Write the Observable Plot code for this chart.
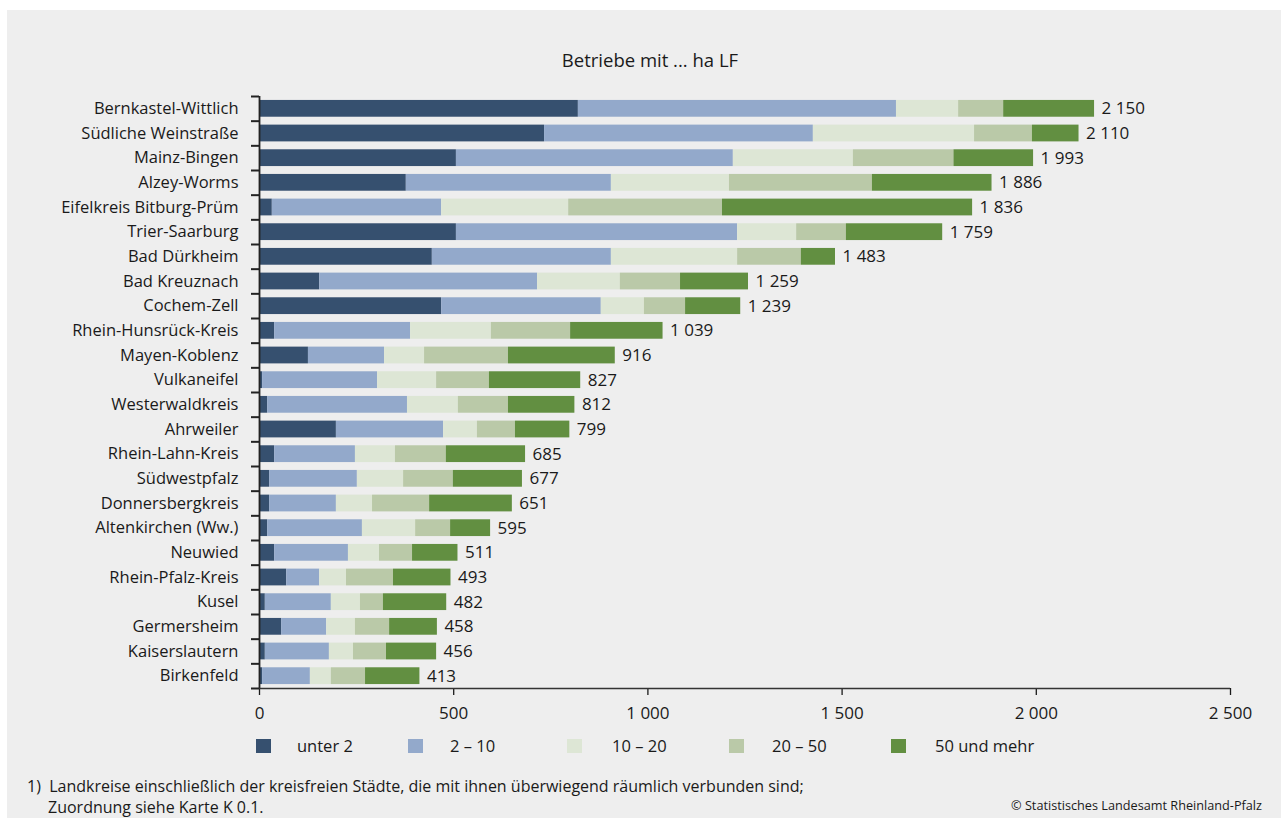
<!DOCTYPE html>
<html><head><meta charset="utf-8">
<script src="https://cdn.jsdelivr.net/npm/d3@7"></script>
<script src="https://cdn.jsdelivr.net/npm/@observablehq/plot@0.6"></script>
<style>
body{margin:0;background:#fff;width:1283px;height:818px;overflow:hidden;position:relative;font-family:"Open Sans",sans-serif;color:#1a1a1a}
#bg{position:absolute;left:7px;top:10px;width:1274px;height:808px;background:#eeeeee}
#title{position:absolute;left:0;width:1300px;top:47px;text-align:center;font-size:18.5px}
#chart{position:absolute;left:0;top:0}
#legend{position:absolute;left:0;top:0;font-size:16.5px}
.sw{position:absolute;width:15px;height:14px;top:739px}
.lt{position:absolute;top:734px;white-space:nowrap}
.fn{position:absolute;font-size:16px;white-space:nowrap}
</style></head>
<body>
<div id="bg"></div>
<div id="title">Betriebe mit ... ha LF</div>
<div id="chart"></div>
<div id="legend"></div>
<div class="fn" style="left:27px;top:775px">1)&nbsp; Landkreise einschließlich der kreisfreien Städte, die mit ihnen überwiegend räumlich verbunden sind;</div>
<div class="fn" style="left:48px;top:796px">Zuordnung siehe Karte K 0.1.</div>
<div class="fn" style="right:21px;top:796px;font-size:12.7px">© Statistisches Landesamt Rheinland-Pfalz</div>
<script>
const districts = ["Bernkastel-Wittlich","Südliche Weinstraße","Mainz-Bingen","Alzey-Worms","Eifelkreis Bitburg-Prüm","Trier-Saarburg","Bad Dürkheim","Bad Kreuznach","Cochem-Zell","Rhein-Hunsrück-Kreis","Mayen-Koblenz","Vulkaneifel","Westerwaldkreis","Ahrweiler","Rhein-Lahn-Kreis","Südwestpfalz","Donnersbergkreis","Altenkirchen (Ww.)","Neuwied","Rhein-Pfalz-Kreis","Kusel","Germersheim","Kaiserslautern","Birkenfeld"];
const classes = ["unter 2","2 – 10","10 – 20","20 – 50","50 und mehr"];
const unter2     = [821,734,507,378, 33,507,445,155,469, 39,126,  8, 21,198, 39, 26, 26, 21, 39, 70, 15, 57, 15,  8];
const von2bis10  = [819,692,713,528,436,724,461,561,411,350,196,296,360,276,208,226,172,244,190, 85,170,116,165,123];
const von10bis20 = [160,415,309,304,327,152,325,213,111,208,103,152,131, 87,103,119, 93,137, 80, 69, 75, 74, 62, 54];
const von20bis50 = [116,149,259,368,396,128,164,155,106,204,216,136,129, 98,131,128,147, 90, 85,121, 59, 88, 85, 88];
const ab50       = [234,120,205,308,644,248, 88,175,142,238,275,235,171,140,204,178,213,103,117,148,163,123,129,140];
const totals = [2150,2110,1993,1886,1836,1759,1483,1259,1239,1039,916,827,812,799,685,677,651,595,511,493,482,458,456,413];
const xTicks = [0,500,1000,1500,2000,2500];
const colors = ["#36506f","#93a9cb","#dde6d5","#bac9a8","#628f41"];

const series = [unter2, von2bis10, von10bis20, von20bis50, ab50];
const rows = [];
districts.forEach((d, i) => classes.forEach((c, j) => rows.push({district: d, cls: c, value: series[j][i]})));
const fmt = n => n >= 1000 ? Math.floor(n / 1000) + "\u00a0" + String(n % 1000).padStart(3, "0") : String(n);

const W = 1283, H = 730, mTop = 96, mBottom = H - 688, mLeft = 259, mRight = 53;
const pIn = 0.32, pOut = 0.16;
const step = (H - mTop - mBottom) / (districts.length - pIn + 2 * pOut);
const kx = (W - mLeft - mRight) / 2500;

const chart = Plot.plot({
  width: W, height: H, marginTop: mTop, marginBottom: mBottom, marginLeft: mLeft, marginRight: mRight,
  style: {background: "transparent", fontFamily: "Open Sans", fontSize: "17px", color: "#1a1a1a"},
  x: {domain: [0, 2500], round: false},
  y: {domain: districts, paddingInner: pIn, paddingOuter: pOut, round: false},
  color: {domain: classes, range: colors},
  marks: [
    Plot.barX(rows, {x: "value", y: "district", fill: "cls", order: classes}),
    Plot.text(districts, {x: totals, y: districts, text: totals.map(fmt), dx: 7, textAnchor: "start", fontSize: 17, fill: "#1a1a1a"}),
    Plot.axisX({ticks: xTicks, tickFormat: fmt, tickSize: 7, tickPadding: 11, label: null, fontSize: 17, strokeWidth: 1.3}),
    Plot.axisY({tickSize: 0, tickPadding: 21, label: null, fontSize: 16.5}),
    Plot.ruleY(districts, {y: d => d, x1: -8 / kx, x2: 0, dy: -step / 2, stroke: "#222", strokeWidth: 2}),
    Plot.ruleY([districts[districts.length - 1]], {y: d => d, x1: -8 / kx, x2: 0, dy: step / 2, stroke: "#222", strokeWidth: 2}),
    Plot.ruleX([0], {stroke: "#222", strokeWidth: 1.8}),
    Plot.ruleY([districts[districts.length - 1]], {y: d => d, x1: 0, x2: 2500, dy: step / 2, stroke: "#333", strokeWidth: 1.6})
  ]
});
document.getElementById("chart").appendChild(chart);

const lg = document.getElementById("legend");
const swX = [256, 408, 567, 729, 891];
const txX = [297, 450, 612, 772, 935];
classes.forEach((c, i) => {
  const s = document.createElement("div");
  s.className = "sw"; s.style.left = swX[i] + "px"; s.style.background = colors[i];
  lg.appendChild(s);
  const t = document.createElement("div");
  t.className = "lt"; t.style.left = txX[i] + "px"; t.textContent = c;
  lg.appendChild(t);
});
</script>
</body></html>
